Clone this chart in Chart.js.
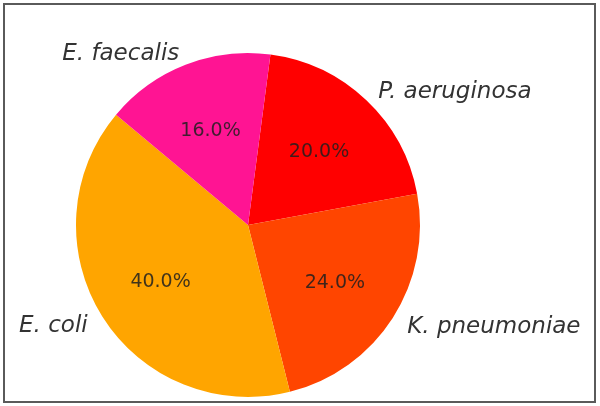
<!DOCTYPE html>
<html>
<head>
<meta charset="utf-8">
<script src="https://cdn.jsdelivr.net/npm/chart.js@4"></script>
<style>
  body { margin: 0; background: #fff; }
  #wrap { position: relative; width: 600px; height: 406px; }
  #frame { position: absolute; left: 3px; top: 3px; width: 589px; height: 396px; border: 2px solid #5a5a5a; pointer-events: none; }
</style>
</head>
<body>
<div id="wrap">
  <canvas id="pie-chart" width="600" height="406"></canvas>
  <div id="frame"></div>
</div>
<script>
const species = ['P. aeruginosa', 'K. pneumoniae', 'E. coli', 'E. faecalis'];
const shares = [20, 24, 40, 16];
const sliceColors = ['#FF0000', '#FF4500', '#FFA500', '#FF1493'];

// draws species names outside and percentages inside, like matplotlib's pie labels
const pieLabels = {
    id: 'pieLabels',
    afterDatasetsDraw(chart) {
        const ctx = chart.ctx;
        const total = shares.reduce((a, b) => a + b, 0);
        chart.getDatasetMeta(0).data.forEach((arc, i) => {
            const p = arc.getProps(['x', 'y', 'startAngle', 'endAngle', 'outerRadius'], true);
            const mid = (p.startAngle + p.endAngle) / 2;
            const cos = Math.cos(mid), sin = Math.sin(mid);

            ctx.save();
            ctx.textBaseline = 'middle';

            ctx.font = '19px "DejaVu Sans"';
            ctx.fillStyle = 'rgba(30, 30, 30, 0.85)';
            ctx.textAlign = 'center';
            const pct = (shares[i] / total * 100).toFixed(1) + '%';
            ctx.fillText(pct, p.x + cos * p.outerRadius * 0.6, p.y + sin * p.outerRadius * 0.6 + 2);

            ctx.font = 'italic 23px "DejaVu Sans"';
            ctx.fillStyle = '#333';
            ctx.textAlign = cos >= 0 ? 'left' : 'right';
            const ly = p.y + sin * p.outerRadius * 1.08 + 2;
            ctx.fillText(species[i], p.x + cos * p.outerRadius * 1.1, ly);
            ctx.restore();
        });
    }
};

new Chart(document.getElementById('pie-chart').getContext('2d'), {
    type: 'pie',
    data: {
        labels: species,
        datasets: [{
            data: shares,
            backgroundColor: sliceColors,
            borderWidth: 0
        }]
    },
    options: {
        responsive: false,
        animation: false,
        rotation: 7.5,
        layout: {
            padding: { top: 53, bottom: 9, left: 76, right: 180 }
        },
        plugins: {
            legend: { display: false },
            tooltip: { enabled: false }
        }
    },
    plugins: [pieLabels]
});
</script>
</body>
</html>
